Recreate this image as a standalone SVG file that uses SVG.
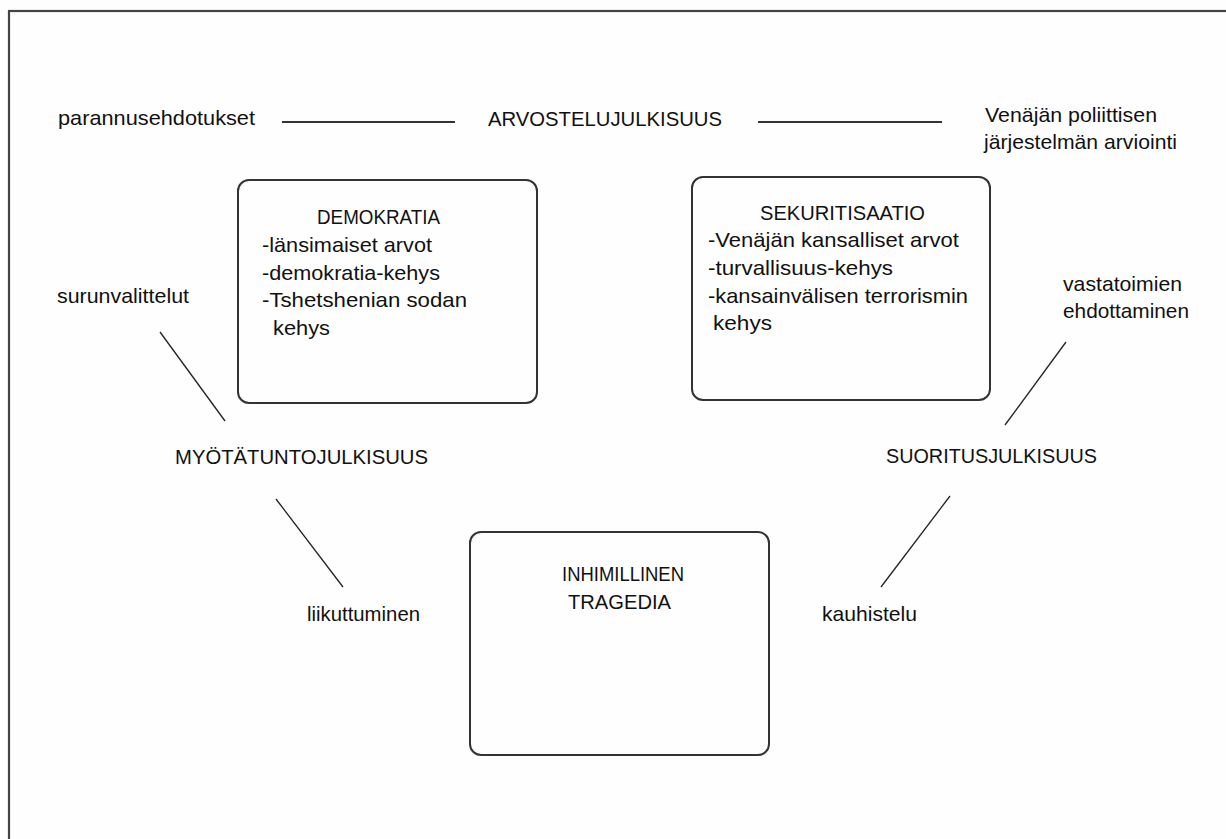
<svg xmlns="http://www.w3.org/2000/svg" width="1226" height="839" viewBox="0 0 1226 839">
<style>
text{font-family:"Liberation Sans",Arial,sans-serif;font-size:21px;fill:#111;}
text.cap{font-size:19.5px;}
.box{fill:none;stroke:#333;stroke-width:2;}
.ln{stroke:#222;stroke-width:1.3;fill:none;}
.hl{stroke:#333;stroke-width:2;fill:none;}
</style>
<rect x="0" y="0" width="1226" height="839" fill="#fefefe"/>
<rect id="frame" x="9" y="11" width="1240" height="850" fill="none" stroke="#444" stroke-width="2.2"/>

<g id="connectors">
<line class="hl" x1="282" y1="122" x2="455" y2="122"/>
<line class="hl" x1="758" y1="122" x2="942" y2="122"/>
<line class="ln" x1="160" y1="332" x2="225" y2="421"/>
<line class="ln" x1="276" y1="499" x2="343" y2="587"/>
<line class="ln" x1="1066" y1="342" x2="1005" y2="425"/>
<line class="ln" x1="950" y1="496" x2="881" y2="587"/>
</g>

<g id="arvostelujulkisuus"><text class="cap" x="488" y="126" textLength="234" lengthAdjust="spacingAndGlyphs">ARVOSTELUJULKISUUS</text></g>
<g id="parannusehdotukset"><text x="58" y="125" textLength="197" lengthAdjust="spacingAndGlyphs">parannusehdotukset</text></g>
<g id="venajan">
<text x="985" y="122" textLength="172" lengthAdjust="spacingAndGlyphs">Venäjän poliittisen</text>
<text x="984" y="149" textLength="193" lengthAdjust="spacingAndGlyphs">järjestelmän arviointi</text>
</g>

<g id="demokratia">
<rect class="box" x="238" y="180" width="299" height="223" rx="11"/>
<text class="cap" x="317" y="224" textLength="123" lengthAdjust="spacingAndGlyphs">DEMOKRATIA</text>
<text x="262" y="252" textLength="170" lengthAdjust="spacingAndGlyphs">-länsimaiset arvot</text>
<text x="262" y="280" textLength="178" lengthAdjust="spacingAndGlyphs">-demokratia-kehys</text>
<text x="262" y="307" textLength="205" lengthAdjust="spacingAndGlyphs">-Tshetshenian sodan</text>
<text x="273" y="335" textLength="57" lengthAdjust="spacingAndGlyphs">kehys</text>
</g>

<g id="sekuritisaatio">
<rect class="box" x="692" y="177" width="298" height="223" rx="11"/>
<text class="cap" x="760" y="220" textLength="165" lengthAdjust="spacingAndGlyphs">SEKURITISAATIO</text>
<text x="708" y="247" textLength="251" lengthAdjust="spacingAndGlyphs">-Venäjän kansalliset arvot</text>
<text x="708" y="275" textLength="185" lengthAdjust="spacingAndGlyphs">-turvallisuus-kehys</text>
<text x="708" y="303" textLength="260" lengthAdjust="spacingAndGlyphs">-kansainvälisen terrorismin</text>
<text x="713" y="330" textLength="59" lengthAdjust="spacingAndGlyphs">kehys</text>
</g>

<g id="inhimillinen">
<rect class="box" x="470" y="532" width="299" height="223" rx="11"/>
<text class="cap" x="562" y="581" textLength="122" lengthAdjust="spacingAndGlyphs">INHIMILLINEN</text>
<text class="cap" x="568" y="609" textLength="103" lengthAdjust="spacingAndGlyphs">TRAGEDIA</text>
</g>

<g id="surunvalittelut"><text x="57" y="303" textLength="132" lengthAdjust="spacingAndGlyphs">surunvalittelut</text></g>
<g id="myotatuntojulkisuus"><text class="cap" x="175" y="464" textLength="253" lengthAdjust="spacingAndGlyphs">MYÖTÄTUNTOJULKISUUS</text></g>
<g id="liikuttuminen"><text x="307" y="621" textLength="113" lengthAdjust="spacingAndGlyphs">liikuttuminen</text></g>

<g id="vastatoimien">
<text x="1063" y="291" textLength="119" lengthAdjust="spacingAndGlyphs">vastatoimien</text>
<text x="1063" y="318" textLength="126" lengthAdjust="spacingAndGlyphs">ehdottaminen</text>
</g>
<g id="suoritusjulkisuus"><text class="cap" x="886" y="463" textLength="211" lengthAdjust="spacingAndGlyphs">SUORITUSJULKISUUS</text></g>
<g id="kauhistelu"><text x="822" y="621" textLength="95" lengthAdjust="spacingAndGlyphs">kauhistelu</text></g>
</svg>
